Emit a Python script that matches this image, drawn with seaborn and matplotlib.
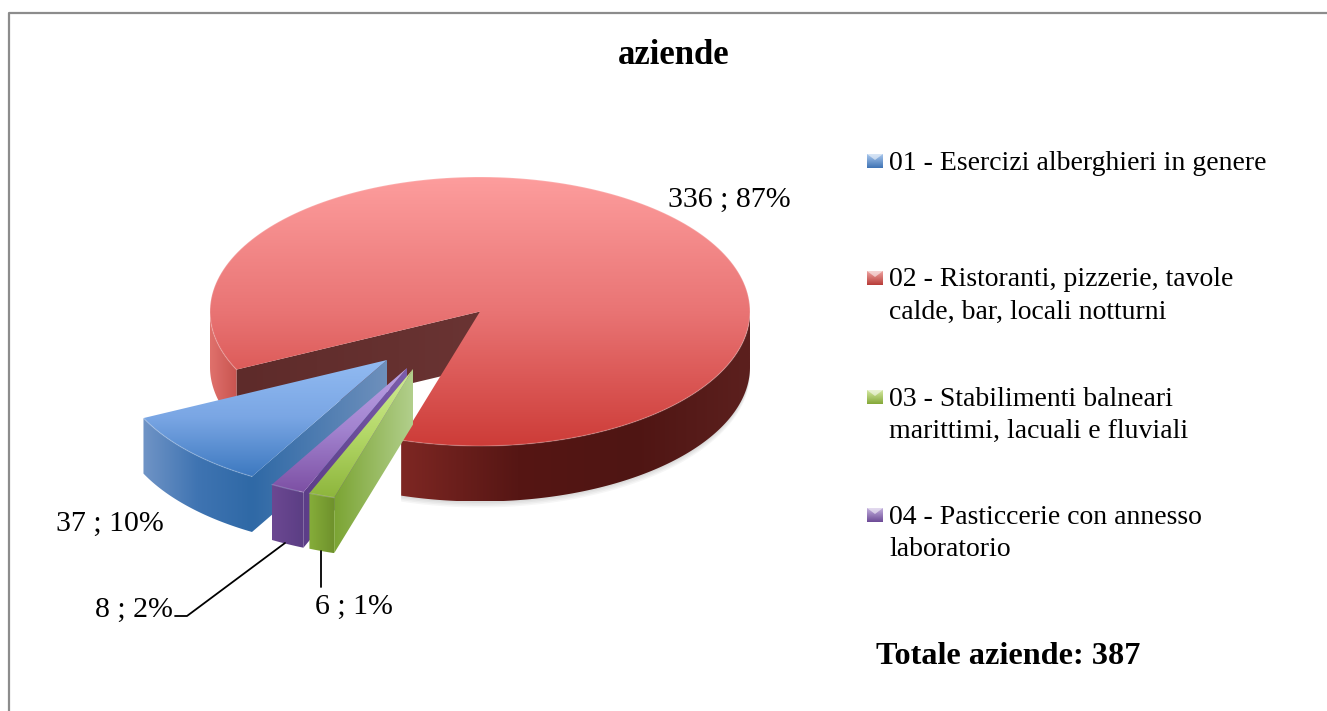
# -*- coding: utf-8 -*-
"""Exploded 3D style pie of aziende per category."""
import numpy as np
import seaborn as sns
from matplotlib import pyplot as plt
from matplotlib.patches import Polygon

sns.set_theme(style="white")
plt.rcParams['font.family'] = ['Liberation Serif', 'DejaVu Serif']

# Data, clockwise in the same order as the legend
CATEGORIES = [
    "01 - Esercizi alberghieri in genere",
    "02 - Ristoranti, pizzerie, tavole\ncalde, bar, locali notturni",
    "03 - Stabilimenti balneari\nmarittimi, lacuali e fluviali",
    "04 - Pasticcerie con annesso\nlaboratorio",
]
VALUES = [37, 336, 6, 8]
PERCENTS = [10, 87, 1, 2]
TITLE = "aziende"
TOTAL_LABEL = "Totale aziende: 387"

# Colours: top face (light -> dark), outer wall, cut wall
TOP_COLOURS = [
    ["#92bbf2", "#7aa6e4", "#3d79c0"],
    ["#fd9d9d", "#e97474", "#cd3c38"],
    ["#cfea95", "#b4d868", "#8db53c"],
    ["#bba2e4", "#a283cf", "#7d50a4"],
]
WALL_COLOURS = [
    ["#7094c6", "#3f74b2", "#2f69a6"],
    ["#7e2723", "#561614", "#4f1513", "#5c201e"],
    ["#86ad3a", "#6f922c"],
    ["#6c4892", "#5b3e84"],
]
CUT_COLOURS = [
    ["#2f69a6", "#6e90bc"],
    ["#5e2b2a", "#6a3433"],
    ["#7ba433", "#b2cf8c"],
    ["#5c3d88", "#7a5cac"],
]
LEFT_WALL_COLOURS = ["#e0716c", "#c85450"]
LEGEND_COLOURS = [
    ["#a9c8ee", "#3f73b4"],
    ["#eea3a0", "#b83c38"],
    ["#d5e9a2", "#84a838"],
    ["#c3b0dd", "#6c4a96"],
]

# Pie geometry in pixels
CENTRE = (480, 311.5)
RADII = (270, 134.5)
DEPTH = 55.5
START_ANGLE = 120
OFFSETS = [(-93, 48.5), (0, 0), (-67, 57.5), (-73, 56.5)]


def arc(centre, start, stop):
    """Points along the pie rim between two angles (degrees, clockwise)."""
    angles = np.radians(np.linspace(start, stop, 200))
    return np.column_stack([centre[0] + RADII[0] * np.cos(angles),
                            centre[1] + RADII[1] * np.sin(angles)])


def gradient_fill(axis, points, colours, vertical=False, z=1):
    """Fill a polygon with a linear gradient, clipped to its outline."""
    points = np.asarray(points)
    cmap = sns.blend_palette(colours, as_cmap=True)
    ramp = np.linspace(0, 1, 256)
    ramp = ramp.reshape(-1, 1) if vertical else ramp.reshape(1, -1)
    extent = (points[:, 0].min(), points[:, 0].max(),
              points[:, 1].max(), points[:, 1].min())
    image = axis.imshow(ramp, cmap=cmap, extent=extent, aspect="auto",
                        origin="upper", zorder=z, interpolation="bilinear")
    patch = Polygon(points, closed=True, transform=axis.transData,
                    facecolor="none", edgecolor="none")
    axis.add_patch(patch)
    image.set_clip_path(patch)


def draw_wall(axis, rim, colours, z):
    drop = rim + np.array([0, DEPTH])
    gradient_fill(axis, np.vstack([rim, drop[::-1]]), colours, z=z)


def draw_shadow(axis, rim, z):
    """Faint blurred shadow below the wall of the big slice."""
    for grow in [1.5, 3, 4.5, 6]:
        drop = rim + np.array([0, DEPTH + grow])
        axis.fill(np.r_[rim[:, 0], drop[::-1, 0]],
                  np.r_[rim[:, 1], drop[::-1, 1]],
                  color="black", alpha=0.035, lw=0, zorder=z)


def draw_slice(axis, idx, start, stop, z):
    """Draw the walls and the top face of one slice."""
    apex = (CENTRE[0] + OFFSETS[idx][0], CENTRE[1] + OFFSETS[idx][1])
    is_red = OFFSETS[idx] == (0, 0)

    if is_red:
        # The red slice wraps round: the wall seen is the one at its start
        draw_shadow(axis, arc(apex, 360, stop), z - 0.5)
        cut_rim = np.array([apex, arc(apex, start, start)[0]])
        draw_wall(axis, cut_rim, CUT_COLOURS[idx], z)
        draw_wall(axis, arc(apex, start, 180), LEFT_WALL_COLOURS, z)
        draw_wall(axis, arc(apex, 360, stop), WALL_COLOURS[idx], z)
    else:
        draw_wall(axis, arc(apex, start, stop), WALL_COLOURS[idx], z)
        cut_rim = np.array([arc(apex, start, start)[0], apex])
        draw_wall(axis, cut_rim, CUT_COLOURS[idx], z)

    rim = arc(apex, start, stop)
    gradient_fill(axis, np.vstack([[apex], rim]), TOP_COLOURS[idx],
                  vertical=True, z=z + 0.1)

    # Soft highlight along the rim of the top face
    axis.plot(rim[:, 0], rim[:, 1], color="white", alpha=0.18, lw=1.0,
              zorder=z + 0.2, solid_capstyle="round")


def draw_legend_marker(axis, x, y, colours):
    """Small bevelled square used in the legend."""
    half = 8
    box = [(x - half, y - 7), (x + half, y - 7), (x + half, y + 7),
           (x - half, y + 7)]
    gradient_fill(axis, box, colours, vertical=True, z=5)
    axis.add_patch(Polygon([(x - half, y - 7), (x + half, y - 7), (x, y - 1)],
                           facecolor="white", alpha=0.55, edgecolor="none",
                           zorder=5.1))


fig = plt.figure(figsize=(13.27, 7.11), dpi=100, facecolor="white")
ax = fig.add_axes([0, 0, 1, 1])

# Work out the slice angles from the values
sweeps = np.array(VALUES) / sum(VALUES) * 360
starts = START_ANGLE + np.concatenate([[0], np.cumsum(sweeps)[:-1]])
stops = starts + sweeps

# Draw back to front: red, blue, purple, green
for order, idx in enumerate([1, 0, 3, 2]):
    draw_slice(ax, idx, starts[idx], stops[idx], z=1 + order)

# Data labels
LABEL_POSITIONS = [(110, 524), (729, 200), (354, 607), (134, 610)]
for value, percent, pos in zip(VALUES, PERCENTS, LABEL_POSITIONS):
    ax.text(pos[0], pos[1], f"{value} ; {percent}%", fontsize=21.5,
            ha="center", va="center", color="black", zorder=6)

# Leader lines of the two thin slices
ax.plot([175, 187, 285], [616, 616, 543], color="black", lw=1.3, zorder=6)
ax.plot([321, 321], [551, 587], color="black", lw=1.3, zorder=6)

# Legend, laid out by hand as the rows are not evenly spaced
LEGEND_Y = [161, 278, 397, 515]
for label, y_pos, colours in zip(CATEGORIES, LEGEND_Y, LEGEND_COLOURS):
    draw_legend_marker(ax, 875, y_pos, colours)
    for row, line in enumerate(label.split("\n")):
        ax.text(889, y_pos + 2 + row * 32, line, fontsize=20, ha="left",
                va="center", color="black")

ax.text(674, 56, TITLE, fontsize=25, fontweight="bold", ha="center",
        va="center", color="black")
ax.text(876, 657, TOTAL_LABEL, fontsize=23.2, fontweight="bold", ha="left",
        va="center", color="black")

# Only the top and left of the chart border are in the picture
ax.plot([9, 9, 1327], [711, 13, 13], color="#8c8c8c", lw=1.6, zorder=6)

ax.set_xlim(0, 1327)
ax.set_ylim(711, 0)
ax.axis("off")

fig.savefig("out.png", dpi=100, facecolor="white")
